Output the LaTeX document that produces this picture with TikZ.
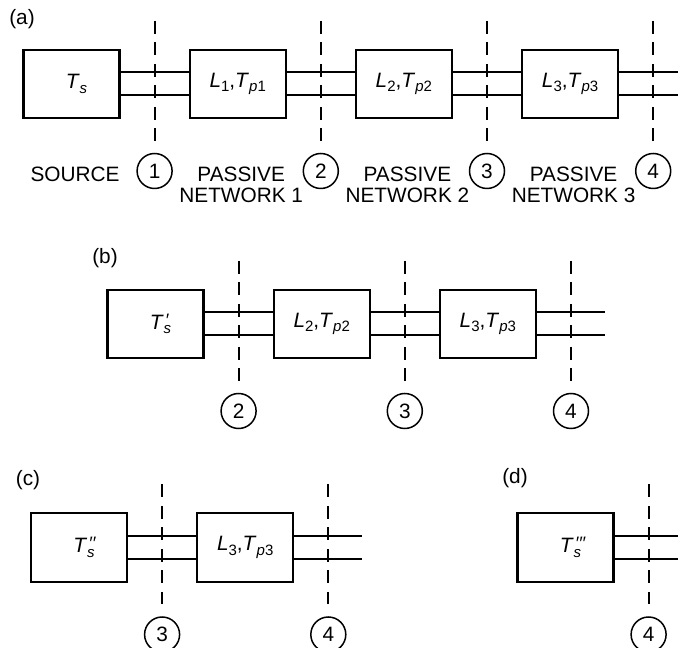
\documentclass[tikz,border=0pt]{standalone}
\usepackage{fontspec}
\setmainfont{Liberation Sans}
\usetikzlibrary{positioning}
\newcommand\sub[1]{\raisebox{-4.5pt}{\fontsize{15}{15}\selectfont #1}}
\newcommand\prm[1]{\rlap{\kern1.5pt\raisebox{3pt}{\fontsize{18}{18}\selectfont\itshape #1}}}
\newcommand\seg[1]{\textit{L}\sub{#1},\textit{T}\sub{\textit{p}#1}}
\newcommand\pair[2]{\foreach \dy in {11.5,-11.5} {\draw[wire] ([yshift=\dy pt]#1) -- ([yshift=\dy pt]#2);}}
\newcommand\cutline[4]{\path (#1) -- (#2) coordinate[midway] (#3);
	\draw[cut] ([yshift=63pt]#3) -- ([yshift=-57pt]#3);
	\node[port] (#3p) at ([yshift=-87pt]#3) {#4};}
\tikzset{
	blk/.style   ={rectangle, draw=black, line width=2.2pt, minimum width=96pt, minimum height=68.5pt, inner sep=0pt, align=center},
	srcblk/.style={blk, execute at begin node={\hspace*{10pt}}},
	% line styles
	wire/.style  ={line width=2pt},
	cut/.style   ={line width=2.1pt, dash pattern=on 13pt off 8.5pt},
	port/.style  ={circle, draw=black, line width=1.5pt, minimum size=35pt, inner sep=0pt},
	note/.style  ={inner sep=0pt, outer sep=0pt, align=center, xshift=3.5pt},
	panel/.style ={inner sep=0pt},
}
\begin{document}
\begin{tikzpicture}[x=1pt, y=1pt, every node/.style={font=\fontsize{20.8}{20.2}\selectfont}]
	\useasboundingbox (0,0) rectangle (678,648);
	\clip (0,0) rectangle (678,648);
	% (a)
	\node[panel] (pa) at (22,629) {(a)};
	\node[srcblk] (s) at (71.5,564) {\textit{T}\sub{\textit{s}}};
	\node[blk, right=68pt of s] (l1) {\seg{1}};
	\node[blk, right=68pt of l1] (l2) {\seg{2}};
	\node[blk, right=68pt of l2] (l3) {\seg{3}};
	\coordinate[right=68pt of l3] (aend);
	\pair{s.east}{l1.west} \pair{l1.east}{l2.west} \pair{l2.east}{l3.west} \pair{l3.east}{aend}
	\cutline{s}{l1}{a1}{1} \cutline{l1}{l2}{a2}{2} \cutline{l2}{l3}{a3}{3} \cutline{l3}{aend}{a4}{4}
	\node[note, below=48pt of s] (src) {SOURCE};
	\node[note, below=48pt of l1] (pn1) {PASSIVE\\NETWORK 1};
	\node[note, below=48pt of l2] (pn2) {PASSIVE\\NETWORK 2};
	\node[note, below=48pt of l3] (pn3) {PASSIVE\\NETWORK 3};
	% (b)
	\node[panel] (pb) at (105,390) {(b)};
	\node[srcblk] (sb) at (155.5,324) {\textit{T}\prm{′}\sub{\textit{s}}};
	\node[blk, right=68pt of sb] (l2b) {\seg{2}};
	\node[blk, right=68pt of l2b] (l3b) {\seg{3}};
	\coordinate[right=68pt of l3b] (bend);
	\pair{sb.east}{l2b.west} \pair{l2b.east}{l3b.west} \pair{l3b.east}{bend}
	\cutline{sb}{l2b}{b2}{2} \cutline{l2b}{l3b}{b3}{3} \cutline{l3b}{bend}{b4}{4}
	% (c)
	\node[panel] (pc) at (28,168) {(c)};
	\node[srcblk] (sc) at (79,100.5) {\textit{T}\prm{′′}\sub{\textit{s}}};
	\node[blk, right=68pt of sc] (l3c) {\seg{3}};
	\coordinate[right=68pt of l3c] (cend);
	\pair{sc.east}{l3c.west} \pair{l3c.east}{cend}
	\cutline{sc}{l3c}{c3}{3} \cutline{l3c}{cend}{c4}{4}
	% (d)
	\node[panel] (pd) at (515,170) {(d)};
	\node[srcblk] (sd) at (565.5,100.5) {\textit{T}\prm{′′′}\sub{\textit{s}}};
	\coordinate[right=68pt of sd] (dend);
	\pair{sd.east}{dend}
	\cutline{sd}{dend}{d4}{4}
\end{tikzpicture}
\end{document}
